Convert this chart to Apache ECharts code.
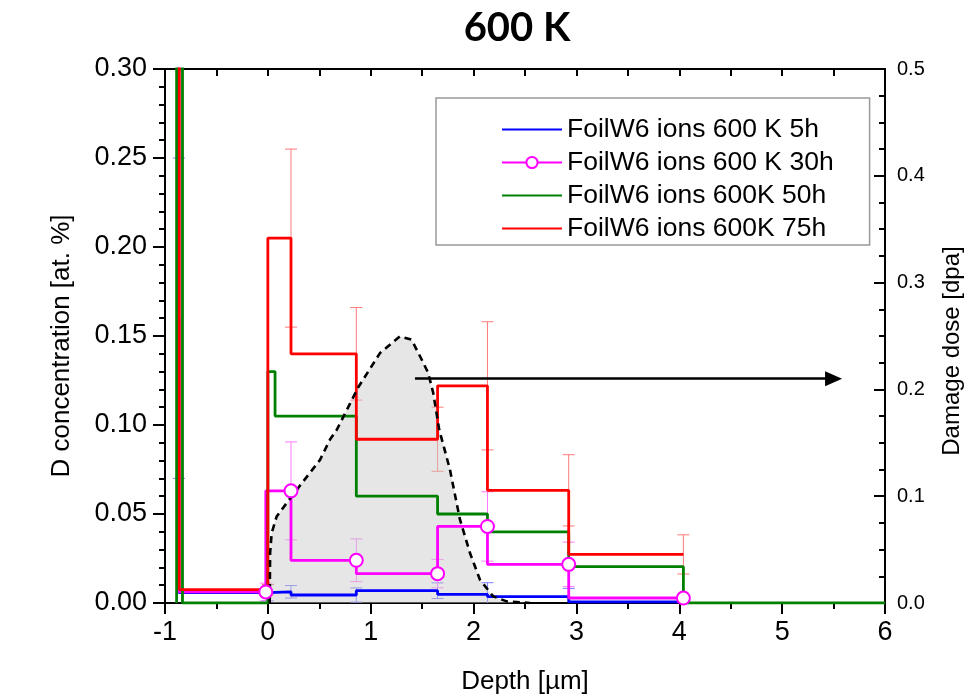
<!DOCTYPE html>
<html><head><meta charset="utf-8">
<script src="https://cdn.jsdelivr.net/npm/echarts@6/dist/echarts.min.js"></script>
<style>html,body{margin:0;padding:0;background:#fff}#c{width:979px;height:698px}</style>
</head><body><div id="c"></div>
<script>
// ---- data (depth in µm, concentration in at.%) ----
const seriesNames = ['FoilW6 ions 600 K 5h', 'FoilW6 ions 600 K 30h', 'FoilW6 ions 600K 50h', 'FoilW6 ions 600K 75h'];

const depthBlue = [-0.865, 0, 0.225, 0.86, 1.65, 2.135, 2.925, 4.04];
const concBlue  = [0.16, 0.0058, 0.0063, 0.0045, 0.0069, 0.0049, 0.0036, 0.0006];
const errBlue   = [0.09, 0.0045, 0.0035, 0.004, 0.0044, 0.0065, 0.0046, 0];

const depthMagenta = [-0.865, -0.02, 0.225, 0.86, 1.65, 2.135, 2.925, 4.04];
const concMagenta  = [0.5, 0.0062, 0.063, 0.024, 0.0165, 0.043, 0.0217, 0.0028];
const errMagenta   = [0, 0.005, 0.0275, 0.012, 0.008, 0.0195, 0.0125, 0.002];

const depthGreen = [-0.887, -0.83, 0, 0.07, 0.86, 1.65, 2.135, 2.925, 4.04, 6.0];
const concGreen  = [0, 0.5, 0, 0.13, 0.105, 0.06, 0.05, 0.04, 0.0204, 0];

const depthRed = [-0.861, 0, 0.225, 0.86, 1.65, 2.135, 2.925, 4.04];
const concRed  = [0.5, 0.0075, 0.205, 0.14, 0.092, 0.122, 0.0633, 0.0273];
const errRed   = [0, 0.003, 0.05, 0.026, 0.018, 0.036, 0.020, 0.011];

// damage dose profile (right axis, dpa)
const depthDose = [0.018, 0.022, 0.037, 0.086, 0.183, 0.344, 0.507, 0.604, 0.669, 0.879, 1.09, 1.284, 1.398, 1.495, 1.559, 1.608, 1.666, 1.77, 1.868, 1.965, 2.062, 2.191, 2.322, 2.549];
const dose      = [0.0, 0.0468, 0.0655, 0.081, 0.0936, 0.1139, 0.134, 0.153, 0.162, 0.202, 0.234, 0.2496, 0.2465, 0.228, 0.2154, 0.1966, 0.1623, 0.125, 0.078, 0.0468, 0.0218, 0.0062, 0.0015, 0.0];

// arrow pointing to the right axis
const arrowDepth = [1.43, 5.5];
const arrowDose = 0.21;

const xTicks = {min: -1, max: 6, interval: 1};
const yLeftTicks = {min: 0, max: 0.3, interval: 0.05};
const yRightTicks = {min: 0, max: 0.5, interval: 0.1};

// ---- chart ----
const FONT = 'Liberation Sans';
const pairs = (xs, ys) => xs.map((x, i) => [x, ys[i]]);
const errData = (xs, ys, es) => xs.map((x, i) => [x, ys[i], es[i]]).filter(d => d[2] > 0);

function stepSeries(name, xs, ys, color, extra) {
  return Object.assign({
    type: 'line', name, xAxisIndex: 0, yAxisIndex: 0, step: 'start',
    data: pairs(xs, ys), symbol: 'none', clip: true, silent: true,
    lineStyle: {color, width: 2.8}, itemStyle: {color}
  }, extra || {});
}
function errSeries(name, xs, ys, es, color) {
  return {
    type: 'custom', name, xAxisIndex: 0, yAxisIndex: 0, clip: true, silent: true,
    data: errData(xs, ys, es), encode: {x: 0, y: 1},
    renderItem: (params, api) => {
      const x = api.value(0), y = api.value(1), e = api.value(2);
      const t = api.coord([x, y + e]), b = api.coord([x, y - e]);
      const w = 6, st = {stroke: color, lineWidth: 1};
      return {type: 'group', children: [
        {type: 'line', shape: {x1: t[0], y1: t[1], x2: b[0], y2: b[1]}, style: st},
        {type: 'line', shape: {x1: t[0] - w, y1: t[1], x2: t[0] + w, y2: t[1]}, style: st},
        {type: 'line', shape: {x1: b[0] - w, y1: b[1], x2: b[0] + w, y2: b[1]}, style: st}
      ]};
    }
  };
}

const axisLineStyle = {color: '#000', width: 2};
const noDot = {opacity: 0};
const chart = echarts.init(document.getElementById('c'));
chart.setOption({
  animation: false,
  backgroundColor: '#fff',
  title: {
    text: '600 K', left: 512, top: 3, textAlign: 'center',
    textStyle: {fontFamily: 'Lato', fontWeight: 'bold', fontSize: 40, color: '#000'}
  },
  legend: {
    data: [
      {name: seriesNames[0], itemStyle: noDot},
      {name: seriesNames[1]},
      {name: seriesNames[2], itemStyle: noDot},
      {name: seriesNames[3], itemStyle: noDot}
    ],
    orient: 'vertical', left: 436, top: 98,
    itemWidth: 60, itemHeight: 14, itemGap: 6, padding: [18, 36, 3, 65],
    borderColor: '#999', borderWidth: 1.5, backgroundColor: '#fff', selectedMode: false,
    textStyle: {fontFamily: FONT, fontSize: 26.5, color: '#000'}
  },
  grid: {left: 165, right: 94, top: 69, bottom: 95, outerBoundsMode: 'none'},
  xAxis: [{
    type: 'value', min: xTicks.min, max: xTicks.max, interval: xTicks.interval, position: 'bottom',
    axisLine: {show: true, onZero: false, lineStyle: axisLineStyle},
    axisTick: {show: true, inside: false, length: 11, lineStyle: axisLineStyle},
    minorTick: {show: true, splitNumber: 2, length: 6, lineStyle: axisLineStyle},
    axisLabel: {color: '#000', fontSize: 27, fontFamily: FONT, margin: 16},
    splitLine: {show: false}, minorSplitLine: {show: false},
    name: 'Depth [µm]', nameLocation: 'middle', nameGap: 66,
    nameTextStyle: {color: '#000', fontSize: 26, fontFamily: FONT}
  }, {
    type: 'value', min: xTicks.min, max: xTicks.max, interval: 0.5, position: 'top',
    axisLine: {show: true, onZero: false, lineStyle: axisLineStyle},
    axisTick: {show: true, inside: true, length: 7, lineStyle: axisLineStyle},
    axisLabel: {show: false}, splitLine: {show: false}
  }],
  yAxis: [{
    type: 'value', min: yLeftTicks.min, max: yLeftTicks.max, interval: yLeftTicks.interval, position: 'left',
    axisLine: {show: true, onZero: false, lineStyle: axisLineStyle},
    axisTick: {show: true, inside: false, length: 12, lineStyle: axisLineStyle},
    minorTick: {show: true, splitNumber: 5, length: 6, lineStyle: axisLineStyle},
    axisLabel: {color: '#000', fontSize: 27, fontFamily: FONT, margin: 18, formatter: v => v.toFixed(2)},
    splitLine: {show: false}, minorSplitLine: {show: false},
    name: 'D concentration [at. %]', nameLocation: 'middle', nameGap: 90,
    nameTextStyle: {color: '#000', fontSize: 26, fontFamily: FONT, padding: [0, 20, 0, 0]}
  }, {
    type: 'value', min: yRightTicks.min, max: yRightTicks.max, interval: yRightTicks.interval, position: 'right',
    axisLine: {show: true, onZero: false, lineStyle: axisLineStyle},
    axisTick: {show: true, inside: true, length: 11, lineStyle: axisLineStyle},
    minorTick: {show: true, splitNumber: 4, length: 6, lineStyle: axisLineStyle},
    axisLabel: {color: '#000', fontSize: 20, fontFamily: FONT, margin: 12, formatter: v => v.toFixed(1)},
    splitLine: {show: false}, minorSplitLine: {show: false},
    name: 'Damage dose [dpa]', nameLocation: 'middle', nameGap: 55,
    nameTextStyle: {color: '#000', fontSize: 24, fontFamily: FONT, padding: [0, 30, 0, 0]}
  }],
  series: [
    stepSeries(seriesNames[0], depthBlue, concBlue, '#0000ff'),
    stepSeries(seriesNames[1], depthMagenta, concMagenta, '#ff00ff',
      {symbol: 'emptyCircle', symbolSize: 13, showSymbol: true, itemStyle: {color: '#ff00ff', borderWidth: 1.5}}),
    stepSeries(seriesNames[2], depthGreen, concGreen, '#008000'),
    stepSeries(seriesNames[3], depthRed, concRed, '#ff0000'),
    errSeries('errBlue', depthBlue, concBlue, errBlue, '#7a7aff'),
    errSeries('errMagenta', depthMagenta, concMagenta, errMagenta, '#ff7aff'),
    errSeries('errRed', depthRed, concRed, errRed, '#ff7a7a'),
    {
      type: 'line', name: 'dose', xAxisIndex: 0, yAxisIndex: 1, data: pairs(depthDose, dose),
      symbol: 'none', silent: true, clip: true, z: 3,
      lineStyle: {color: '#000', width: 2.6, type: [7, 5]},
      areaStyle: {color: 'rgba(200,200,200,0.45)', opacity: 1, origin: 'start'},
      markLine: {
        silent: true, symbol: ['none', 'triangle'], symbolSize: [15, 17],
        label: {show: false}, emphasis: {disabled: true},
        lineStyle: {color: '#000', width: 2.5, type: 'solid'},
        data: [[{coord: [arrowDepth[0], arrowDose]}, {coord: [arrowDepth[1], arrowDose]}]]
      }
    }
  ]
});
</script></body></html>
